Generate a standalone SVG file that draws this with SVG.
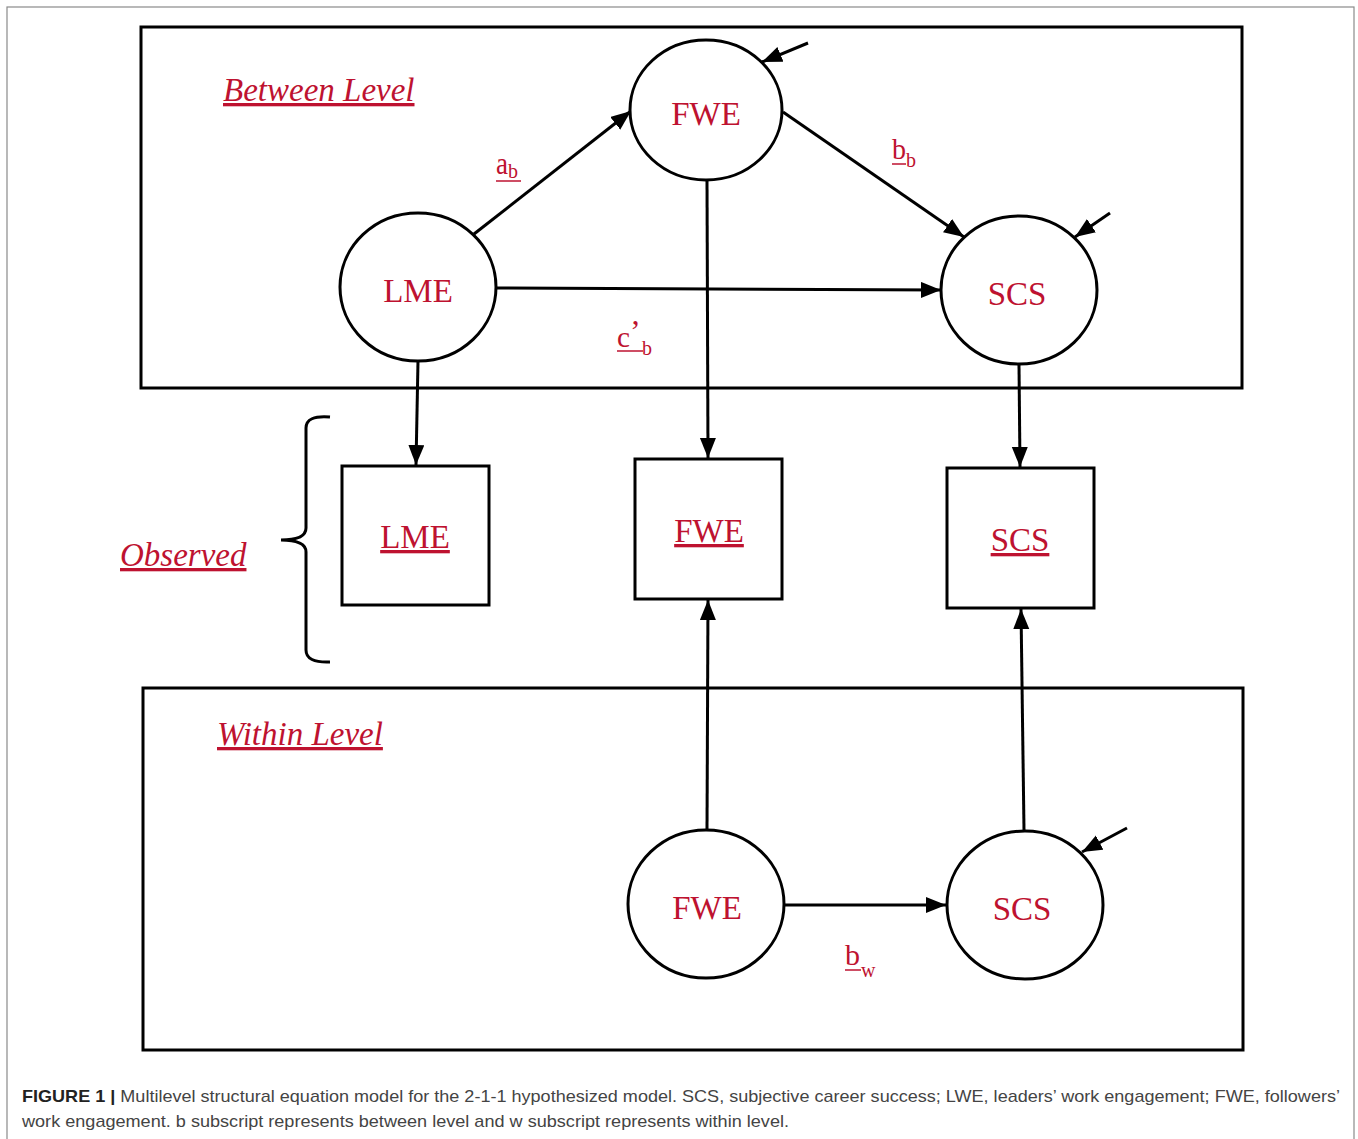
<svg xmlns="http://www.w3.org/2000/svg" width="1358" height="1139" viewBox="0 0 1358 1139">
<style>
.frame{fill:none;stroke:#000;stroke-width:3}
.node{fill:#fff;stroke:#000;stroke-width:3}
.lbl{font-family:"Liberation Serif","Times New Roman",serif;fill:#BE1230;font-size:33px;text-anchor:middle}
.ital{font-family:"Liberation Serif","Times New Roman",serif;fill:#BE1230;font-size:33px;font-style:italic;text-decoration:underline}
.sym{font-family:"Liberation Serif","Times New Roman",serif;fill:#BE1230}
.ul{stroke:#BE1230;stroke-width:1.5}
.conn line{stroke:#000;stroke-width:3;marker-end:url(#ah)}
.cap{font-family:"Liberation Sans",Arial,sans-serif;font-size:17px;fill:#444}
</style>
<defs>
<marker id="ah" markerUnits="userSpaceOnUse" markerWidth="22" markerHeight="18" refX="20" refY="8" orient="auto" viewBox="0 0 22 18">
<path d="M0,0 L20,8 L0,16 z" fill="#000"/>
</marker>
</defs>
<rect x="0" y="0" width="1358" height="1139" fill="#fff"/>
<rect x="7" y="7" width="1347" height="1140" fill="none" stroke="#8a8a8a" stroke-width="1.2"/>

<g id="between-level">
<rect class="frame" x="141" y="27" width="1101" height="361"/>
<text class="ital" x="223" y="101">Between Level</text>
</g>
<g id="within-level">
<rect class="frame" x="143" y="688" width="1100" height="362"/>
<text class="ital" x="217" y="745">Within Level</text>
</g>
<g id="observed-label">
<text class="ital" x="120" y="566">Observed</text>
<path d="M330,417 Q306,415 306,428 L306,528 Q306,540 281,540 Q306,540 306,552 L306,650 Q306,663 330,662" fill="none" stroke="#000" stroke-width="3"/>
</g>

<g class="conn" id="connectors">
<line x1="474" y1="234" x2="631" y2="111"/>
<line x1="783" y1="112" x2="964" y2="237"/>
<line x1="496" y1="288" x2="941" y2="290"/>
<line x1="808" y1="43" x2="762" y2="62"/>
<line x1="1110" y1="213" x2="1075" y2="237"/>
<line x1="418" y1="361" x2="416" y2="465"/>
<line x1="707" y1="181" x2="708" y2="458"/>
<line x1="1019" y1="365" x2="1020" y2="467"/>
<line x1="707" y1="830" x2="708" y2="600"/>
<line x1="1024" y1="830" x2="1021" y2="609"/>
<line x1="785" y1="905" x2="946" y2="905"/>
<line x1="1127" y1="828" x2="1082" y2="852"/>
</g>

<g id="path-labels">
<text class="sym" x="496" y="174" font-size="31" textLength="12" lengthAdjust="spacingAndGlyphs">a</text>
<text class="sym" x="508" y="178" font-size="20">b</text>
<line class="ul" x1="496" y1="181" x2="521" y2="181"/>
<text class="sym" x="892" y="159" font-size="30" textLength="14" lengthAdjust="spacingAndGlyphs">b</text>
<text class="sym" x="906" y="167" font-size="20">b</text>
<line class="ul" x1="892" y1="164" x2="906" y2="164"/>
<text class="sym" x="617" y="347" font-size="30" textLength="13" lengthAdjust="spacingAndGlyphs">c</text>
<text class="sym" x="630" y="342" font-size="32">’</text>
<text class="sym" x="642" y="355" font-size="20">b</text>
<line class="ul" x1="617" y1="351" x2="643" y2="351"/>
<text class="sym" x="845" y="965" font-size="30" textLength="15" lengthAdjust="spacingAndGlyphs">b</text>
<text class="sym" x="861" y="977" font-size="20">w</text>
<line class="ul" x1="845" y1="970" x2="861" y2="970"/>
</g>

<g id="LME-latent">
<ellipse class="node" cx="418" cy="287" rx="78" ry="74"/>
<text class="lbl" x="418" y="302">LME</text>
</g>
<g id="FWE-between">
<ellipse class="node" cx="706" cy="110" rx="76" ry="70"/>
<text class="lbl" x="706" y="125">FWE</text>
</g>
<g id="SCS-between">
<ellipse class="node" cx="1019" cy="290" rx="78" ry="74"/>
<text class="lbl" x="1017" y="305">SCS</text>
</g>

<g id="LME-observed">
<rect class="node" x="342" y="466" width="147" height="139"/>
<text class="lbl" x="415" y="548" text-decoration="underline">LME</text>
</g>
<g id="FWE-observed">
<rect class="node" x="635" y="459" width="147" height="140"/>
<text class="lbl" x="709" y="542" text-decoration="underline">FWE</text>
</g>
<g id="SCS-observed">
<rect class="node" x="947" y="468" width="147" height="140"/>
<text class="lbl" x="1020" y="551" text-decoration="underline">SCS</text>
</g>

<g id="FWE-within">
<ellipse class="node" cx="706" cy="904" rx="78" ry="74"/>
<text class="lbl" x="707" y="919">FWE</text>
</g>
<g id="SCS-within">
<ellipse class="node" cx="1025" cy="905" rx="78" ry="74"/>
<text class="lbl" x="1022" y="920">SCS</text>
</g>

<g id="caption">
<text class="cap" x="22" y="1102" textLength="1318" lengthAdjust="spacingAndGlyphs"><tspan font-weight="bold" fill="#222">FIGURE 1 |</tspan> Multilevel structural equation model for the 2-1-1 hypothesized model. SCS, subjective career success; LWE, leaders’ work engagement; FWE, followers’</text>
<text class="cap" x="22" y="1127" textLength="767" lengthAdjust="spacingAndGlyphs">work engagement. b subscript represents between level and w subscript represents within level.</text>
</g>
</svg>
